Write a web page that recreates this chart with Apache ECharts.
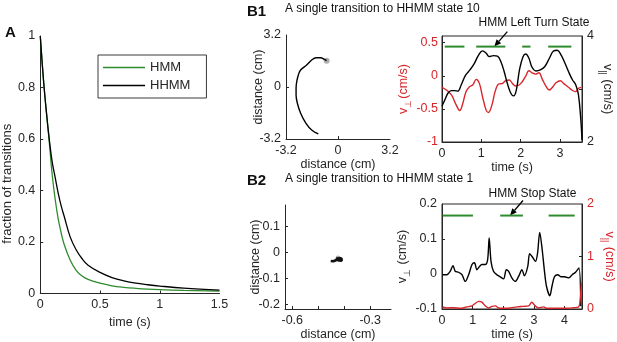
<!DOCTYPE html>
<html>
<head>
<meta charset="utf-8">
<script src="https://cdn.jsdelivr.net/npm/echarts@6/dist/echarts.min.js"></script>
<style>
html, body { margin: 0; padding: 0; background: #fff; }
#main { width: 617px; height: 342px; }
</style>
</head>
<body>
<div id="main"></div>
<script>
// A: fraction of transitions vs time
var timeA    = [0, 0.025, 0.05, 0.075, 0.1, 0.125, 0.15, 0.175, 0.2, 0.25, 0.3, 0.35, 0.4, 0.5, 0.6, 0.7, 0.8, 0.9, 1.0, 1.2, 1.5];
var hmmFrac  = [1, 0.84, 0.71, 0.59, 0.46, 0.365, 0.29, 0.235, 0.19, 0.13, 0.09, 0.068, 0.055, 0.04, 0.03, 0.024, 0.02, 0.017, 0.015, 0.012, 0.009];
var hhmmFrac = [1, 0.84, 0.71, 0.6, 0.51, 0.45, 0.39, 0.34, 0.3, 0.22, 0.17, 0.135, 0.11, 0.082, 0.062, 0.049, 0.04, 0.034, 0.029, 0.021, 0.013];

// B1: trajectory (cm)
var traj1X = [-0.70, -0.84, -1.07, -1.35, -1.62, -1.93, -2.30, -2.44, -2.54, -2.58, -2.58, -2.50, -2.30, -1.97, -1.62, -1.21];
var traj1Y = [1.62, 1.70, 1.80, 1.80, 1.66, 1.35, 1.05, 0.74, 0.33, -0.08, -0.49, -1.0, -1.62, -2.24, -2.65, -2.89];

// B1: velocities
var tPar1 = [0, 0.07, 0.15, 0.24, 0.32, 0.40, 0.49, 0.60, 0.71, 0.82, 0.93, 1.03, 1.12, 1.20, 1.31, 1.41, 1.50, 1.58, 1.66, 1.75, 1.82, 1.89, 1.97, 2.06, 2.13, 2.21, 2.29, 2.39, 2.50, 2.61, 2.73, 2.84, 2.93, 3.03, 3.13, 3.24, 3.32, 3.40, 3.47, 3.53, 3.56];
var vPar1 = [2.68, 2.79, 2.92, 2.97, 2.97, 2.96, 3.08, 3.26, 3.36, 3.48, 3.64, 3.72, 3.68, 3.61, 3.63, 3.62, 3.51, 3.33, 3.11, 2.92, 2.87, 2.98, 3.36, 3.61, 3.66, 3.58, 3.41, 3.34, 3.36, 3.42, 3.58, 3.72, 3.73, 3.64, 3.48, 3.29, 3.17, 3.08, 2.89, 2.42, 2.04];
var tPerp1 = [0, 0.11, 0.24, 0.36, 0.45, 0.53, 0.61, 0.70, 0.78, 0.87, 0.95, 1.03, 1.12, 1.18, 1.27, 1.35, 1.44, 1.54, 1.62, 1.71, 1.79, 1.87, 1.96, 2.04, 2.13, 2.21, 2.29, 2.38, 2.46, 2.56, 2.65, 2.73, 2.82, 2.90, 3.01, 3.09, 3.20, 3.30, 3.39, 3.47, 3.54];
var vPerp1 = [-0.175, -0.215, -0.29, -0.44, -0.525, -0.415, -0.24, -0.165, -0.14, -0.055, -0.115, -0.315, -0.515, -0.555, -0.44, -0.24, -0.125, -0.115, -0.075, -0.065, -0.115, -0.155, -0.14, -0.09, -0.005, 0.075, 0.045, 0.025, 0.045, -0.065, -0.165, -0.215, -0.165, -0.105, -0.075, -0.115, -0.165, -0.215, -0.24, -0.19, -0.175];
var leftTurnStart = [0.07, 0.87, 2.04, 2.70];
var leftTurnEnd   = [0.57, 1.61, 2.25, 3.29];
var leftTurnLevel = 0.44;

// B2: trajectory (cm)
var traj2X = [-0.452, -0.442, -0.432, -0.425, -0.418, -0.41, -0.404, -0.41, -0.42, -0.43, -0.425];
var traj2Y = [-0.033, -0.034, -0.03, -0.026, -0.021, -0.024, -0.029, -0.032, -0.031, -0.027, -0.02];

// B2: velocities
var tPerp2 = [0.02, 0.16, 0.27, 0.36, 0.43, 0.54, 0.65, 0.76, 0.87, 0.98, 1.06, 1.14, 1.23, 1.30, 1.41, 1.49, 1.54, 1.60, 1.68, 1.79, 1.90, 2.01, 2.10, 2.17, 2.28, 2.39, 2.50, 2.61, 2.69, 2.80, 2.86, 2.94, 3.05, 3.12, 3.19, 3.27, 3.34, 3.41, 3.52, 3.59, 3.67, 3.78, 3.89, 4.00, 4.14, 4.25, 4.36, 4.47, 4.53];
var vPerp2 = [-0.002, -0.002, 0.008, 0.024, 0.008, 0.005, -0.002, -0.021, -0.002, 0.027, 0.032, 0.012, 0.022, 0.027, 0.027, 0.041, 0.103, 0.036, 0.008, -0.002, -0.008, -0.014, 0.012, 0.008, -0.011, -0.021, -0.007, 0.012, -0.005, 0.022, 0.058, 0.05, 0.036, 0.06, 0.119, 0.07, 0.012, -0.035, -0.062, -0.035, -0.008, -0.002, -0.008, -0.008, -0.011, -0.002, 0.005, 0.017, -0.092];
var tPar2 = [0.02, 0.16, 0.38, 0.60, 0.81, 0.98, 1.09, 1.20, 1.30, 1.41, 1.52, 1.63, 1.74, 1.85, 2.01, 2.23, 2.45, 2.66, 2.83, 2.93, 3.04, 3.15, 3.32, 3.42, 3.64, 3.86, 4.08, 4.29, 4.46, 4.51, 4.55];
var vPar2 = [0.038, 0.02, 0.025, 0.013, 0.04, 0.06, 0.11, 0.146, 0.13, 0.06, 0.02, 0.05, 0.06, 0.02, 0.013, 0.02, 0.04, 0.05, 0.06, 0.13, 0.06, 0.02, 0.04, 0.013, 0.013, 0.013, 0.013, 0.025, 0.04, 0.18, 0.5];
var stopStart = [0.02, 1.90, 3.48];
var stopEnd   = [1.01, 2.64, 4.33];
var stopLevel = 0.167;

var FONT = "'Liberation Sans', Arial, sans-serif";
var AX = '#262626', RED = '#d7262b', GREEN = '#2e8b2e', GREY = '#9a9a9a';

function pairs(xs, ys) {
  return xs.map(function (x, i) { return [x, ys[i]]; });
}

function axis(grid, min, max, ticks, labels, more) {
  var a = {
    gridIndex: grid, type: 'value', min: min, max: max,
    axisLine: { show: true, onZero: false, lineStyle: { color: AX, width: 1 } },
    axisTick: { show: true, inside: true, length: 3, customValues: ticks, lineStyle: { color: AX } },
    axisLabel: { customValues: labels, color: AX, fontSize: 12.5, fontFamily: FONT, margin: 5 },
    splitLine: { show: false },
    nameLocation: 'middle',
    nameTextStyle: { color: AX, fontSize: 12.5, fontFamily: FONT }
  };
  for (var k in more) a[k] = more[k];
  return a;
}

function subName(main, sub, tail, color) {
  return {
    text: '{a|' + main + '}{b|' + sub + '}{a|' + tail + '}',
    style: {
      color: color, fontFamily: FONT,
      rich: {
        a: { fontSize: 12.5, color: color, fontFamily: FONT, verticalAlign: 'top', lineHeight: 15 },
        b: { fontSize: 9, color: color, fontFamily: FONT, verticalAlign: 'top', padding: [7, 1, 0, 0] }
      }
    }
  };
}

function segs(starts, ends, lvl, xi, yi) {
  return starts.map(function (s, i) {
    return {
      type: 'line', xAxisIndex: xi, yAxisIndex: yi, silent: true, symbol: 'none',
      data: [[s, lvl], [ends[i], lvl]],
      lineStyle: { color: GREEN, width: 2 }
    };
  });
}

var n1L = subName('v', '⊥', '(cm/s)', RED);
var n1R = subName('v', '||', ' (cm/s)', AX);
var n2L = subName('v', '⊥', ' (cm/s)', AX);
var n2R = subName('v', '||', ' (cm/s)', RED);

var chart = echarts.init(document.getElementById('main'));

var option = {
  animation: false,
  textStyle: { fontFamily: FONT },
  grid: [
    { left: 39, top: 36, width: 180.5, height: 257.5 },
    { left: 286, top: 35, width: 104, height: 104 },
    { left: 442, top: 36, width: 140, height: 106, show: true, borderColor: AX, borderWidth: 1 },
    { left: 285, top: 205, width: 106, height: 104 },
    { left: 442, top: 204, width: 140, height: 105, show: true, borderColor: AX, borderWidth: 1 }
  ],
  legend: {
    data: ['HMM', 'HHMM'], orient: 'vertical', left: 98, top: 55,
    icon: 'rect', padding: [5, 16, 5, 5], itemGap: 3, itemWidth: 42, itemHeight: 1.6,
    borderColor: '#3a3a3a', borderWidth: 1,
    textStyle: { fontSize: 13, color: AX, fontFamily: FONT, lineHeight: 15 }
  },
  xAxis: [
    axis(0, 0, 1.5, [0.5, 1], [0, 0.5, 1, 1.5], { name: 'time (s)', nameGap: 17 }),
    axis(1, -3.2, 3.2, [0], [-3.2, 0, 3.2], { name: 'distance (cm)', nameGap: 15 }),
    axis(2, 0, 3.56, [1, 2, 3], [0, 1, 2, 3], { name: 'time (s)', nameGap: 15 }),
    axis(3, -0.628, -0.22, [-0.6, -0.5, -0.4, -0.3], [-0.6, -0.3], { name: 'distance (cm)', nameGap: 13 }),
    axis(4, 0, 4.57, [1, 2, 3, 4], [0, 1, 2, 3, 4], { name: 'time (s)', nameGap: 17 })
  ],
  yAxis: [
    axis(0, 0, 1, [0.2, 0.4, 0.6, 0.8], [0, 0.2, 0.4, 0.6, 0.8, 1],
      { name: 'fraction of transitions', nameGap: 25, nameTextStyle: { color: AX, fontSize: 13, fontFamily: FONT, padding: [0, 38, 0, 0] } }),
    axis(1, -3.2, 3.2, [0], [-3.2, 0, 3.2], { name: 'distance (cm)', nameGap: 21, nameMoveOverlap: false }),
    axis(2, -1, 0.6, [-0.5, 0, 0.5], [-1, -0.5, 0, 0.5],
      { name: n1L.text, nameGap: 27, nameTextStyle: n1L.style, axisLabel: { customValues: [-1, -0.5, 0, 0.5], color: RED, fontSize: 12.5, fontFamily: FONT, margin: 4 } }),
    axis(2, 2, 4, [3], [2, 4],
      { position: 'right', name: n1R.text, nameGap: 16, nameRotate: -90, nameTextStyle: n1R.style }),
    axis(3, -0.218, 0.183, [-0.2, -0.1, 0, 0.1], [-0.2, -0.1, 0, 0.1], { name: 'distance (cm)', nameGap: 23, nameMoveOverlap: false }),
    axis(4, -0.1, 0.2, [0, 0.1], [-0.1, 0, 0.1, 0.2], { name: n2L.text, nameGap: 27, nameTextStyle: n2L.style }),
    axis(4, 0, 2, [1], [0, 1, 2],
      { position: 'right', name: n2R.text, nameGap: 18, nameRotate: -90, nameTextStyle: n2R.style,
        axisLabel: { customValues: [0, 1, 2], color: RED, fontSize: 12.5, fontFamily: FONT, margin: 5 } })
  ],
  series: [
    { name: 'HMM', type: 'line', xAxisIndex: 0, yAxisIndex: 0, data: pairs(timeA, hmmFrac), smooth: 0.4,
      symbol: 'none', lineStyle: { color: GREEN, width: 1.3 }, itemStyle: { color: GREEN } },
    { name: 'HHMM', type: 'line', xAxisIndex: 0, yAxisIndex: 0, data: pairs(timeA, hhmmFrac), smooth: 0.4,
      symbol: 'none', lineStyle: { color: '#000', width: 1.3 }, itemStyle: { color: '#000' } },

    { type: 'line', xAxisIndex: 1, yAxisIndex: 1, data: pairs(traj1X, traj1Y), smooth: 0.4,
      symbol: 'none', lineStyle: { color: '#000', width: 1.4 } },
    { type: 'scatter', xAxisIndex: 1, yAxisIndex: 1, data: [[traj1X[0], traj1Y[0]]], symbolSize: 6,
      itemStyle: { color: GREY } },

    { type: 'line', xAxisIndex: 2, yAxisIndex: 2, data: pairs(tPerp1, vPerp1), smooth: 0.4,
      symbol: 'none', lineStyle: { color: RED, width: 1.4 } },
    { type: 'line', xAxisIndex: 2, yAxisIndex: 3, data: pairs(tPar1, vPar1), smooth: 0.4,
      symbol: 'none', lineStyle: { color: '#000', width: 1.4 } },

    { type: 'line', xAxisIndex: 3, yAxisIndex: 4, data: pairs(traj2X, traj2Y),
      symbol: 'none', lineStyle: { color: '#111', width: 2.6 } },
    { type: 'scatter', xAxisIndex: 3, yAxisIndex: 4, data: [[-0.425, -0.019]], symbolSize: 4,
      itemStyle: { color: GREY } },

    { type: 'line', xAxisIndex: 4, yAxisIndex: 5, data: pairs(tPerp2, vPerp2), smooth: 0.3,
      symbol: 'none', lineStyle: { color: '#000', width: 1.4 } },
    { type: 'line', xAxisIndex: 4, yAxisIndex: 6, data: pairs(tPar2, vPar2), smooth: 0.3,
      symbol: 'none', lineStyle: { color: RED, width: 1.4 } }
  ]
    .concat(segs(leftTurnStart, leftTurnEnd, leftTurnLevel, 2, 2))
    .concat(segs(stopStart, stopEnd, stopLevel, 4, 5))
};

chart.setOption(option);

// annotation arrows pointing to the state bars
function arrow(head, dx, dy) {
  var tx = head[0] + dx, ty = head[1] + dy;
  var len = Math.sqrt(dx * dx + dy * dy), ux = -dx / len, uy = -dy / len;
  var bx = head[0] - ux * 7, by = head[1] - uy * 7;
  return [
    { type: 'line', shape: { x1: tx, y1: ty, x2: bx, y2: by }, style: { stroke: '#000', lineWidth: 1.3 }, silent: true },
    { type: 'polygon', shape: { points: [head, [bx - uy * 3, by + ux * 3], [bx + uy * 3, by - ux * 3]] },
      style: { fill: '#000' }, silent: true }
  ];
}

var head1 = chart.convertToPixel({ xAxisIndex: 2, yAxisIndex: 2 }, [1.33, leftTurnLevel]);
var head2 = chart.convertToPixel({ xAxisIndex: 4, yAxisIndex: 5 }, [2.22, stopLevel]);

function txt(x, y, s, size, bold, align) {
  return { type: 'text', x: x, y: y, silent: true,
    style: { text: s, fontSize: size, fontWeight: bold ? 'bold' : 'normal', fontFamily: FONT, fill: '#111',
      textAlign: align || 'left', textVerticalAlign: 'middle' } };
}

chart.setOption({
  graphic: { elements: [
    txt(5, 33, 'A', 15, true),
    txt(247, 11.5, 'B1', 15, true),
    txt(285, 8.5, 'A single transition to HHMM state 10', 12),
    txt(247, 181, 'B2', 15, true),
    txt(285, 178.5, 'A single transition to HHMM state 1', 12),
    txt(534, 22.5, 'HMM Left Turn State', 12, false, 'center'),
    txt(532.5, 193.5, 'HMM Stop State', 12, false, 'center')
  ].concat(arrow(head1, 13, -15)).concat(arrow(head2, 13, -15)) }
});
</script>
</body>
</html>
